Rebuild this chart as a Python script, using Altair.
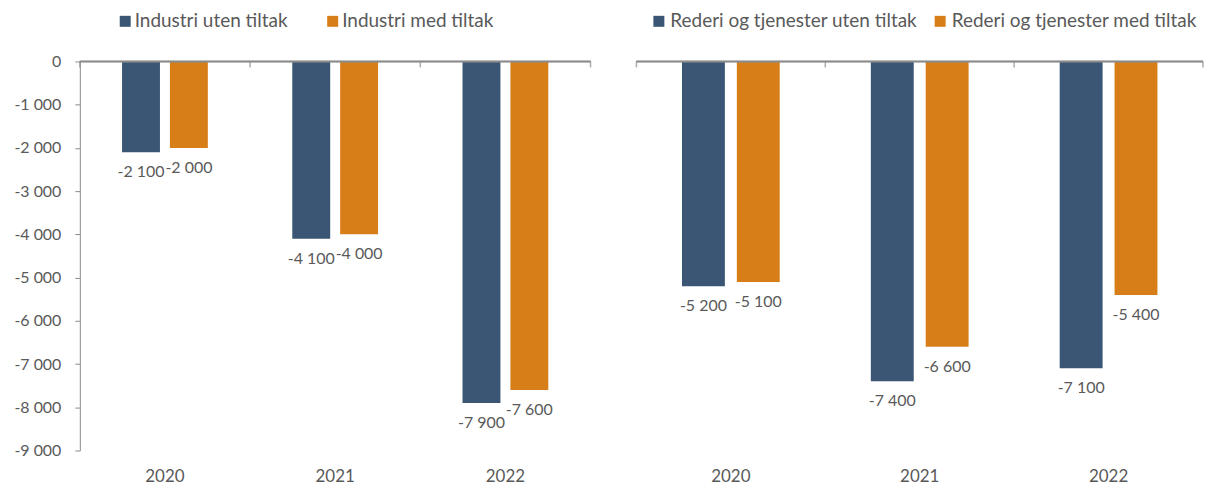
import altair as alt
import pandas as pd

years = ["2020", "2021", "2022"]
industri_uten = [-2100, -4100, -7900]
industri_med = [-2000, -4000, -7600]
rederi_uten = [-5200, -7400, -7100]
rederi_med = [-5100, -6600, -5400]

left_series = ["Industri uten tiltak", "Industri med tiltak"]
right_series = ["Rederi og tjenester uten tiltak", "Rederi og tjenester med tiltak"]
colors = ["#3A5674", "#D87E18"]
y_ticks = [0, -1000, -2000, -3000, -4000, -5000, -6000, -7000, -8000, -9000]

FONT = "Lato"
GRAY = "#595959"
LINE = "#8C8C8C"


def fmt(v):
    return f"{v:,}".replace(",", " ")


def make_df(name, vals):
    return pd.DataFrame({"year": years, "series": name, "value": vals,
                         "label": [fmt(v) for v in vals], "zero": 0})


def panel(series, a, b, width, bar_w, shift, legend_x, col_pad, lab_off, show_y):
    band = width / len(years)
    xscale = alt.Scale(domain=years, paddingInner=0, paddingOuter=0)
    yscale = alt.Scale(domain=[-9000, 0], nice=False, zero=True)
    if show_y:
        yaxis = alt.Axis(
            values=y_ticks, grid=False, domainColor=LINE, tickColor=LINE, tickSize=5,
            labelColor=GRAY, labelFontSize=16, labelFont=FONT, labelPadding=14,
            minExtent=72, maxExtent=72, title=None,
            labelExpr="replace(replace(format(datum.value, ','), ',', ' '), '\u2212', '-')",
        )
    else:
        yaxis = None
    xaxis = alt.Axis(orient="bottom", domain=False, ticks=False, labelAngle=0, grid=False,
                     labelFontSize=17, labelFont=FONT, labelColor=GRAY,
                     labelPadding=18, title=None)
    X = alt.X("year:N", sort=years, scale=xscale, axis=xaxis)
    color = alt.Color(
        "series:N", sort=series,
        scale=alt.Scale(domain=series, range=colors),
        legend=alt.Legend(
            orient="none", legendX=legend_x, legendY=-50, direction="horizontal",
            title=None, symbolType="square", symbolSize=121, symbolStrokeWidth=0,
            labelFontSize=19, labelFont=FONT, labelColor=GRAY, labelOffset=lab_off,
            labelLimit=400, columnPadding=col_pad, padding=0,
        ),
    )
    layers = []
    for i, (name, vals) in enumerate(zip(series, [a, b])):
        d = make_df(name, vals)
        off = -shift if i == 0 else shift
        layers.append(alt.Chart(d).mark_bar(width=bar_w, xOffset=off).encode(
            x=X, y=alt.Y("value:Q", scale=yscale, axis=yaxis), color=color,
        ))
        layers.append(alt.Chart(d).mark_text(
            baseline="top", dy=12, dx=off, fontSize=16, font=FONT, color=GRAY
        ).encode(x=X, y=alt.Y("value:Q", scale=yscale, axis=yaxis), text="label:N"))
    d0 = make_df(series[0], a)
    # zero line
    layers.append(alt.Chart(d0).mark_rule(color=LINE, strokeWidth=1.5).encode(
        y=alt.Y("zero:Q", scale=yscale, axis=yaxis)))
    # small category separator ticks hanging below the zero line
    layers.append(alt.Chart(d0).mark_tick(
        color=LINE, thickness=1.5, size=6, orient="vertical", xOffset=-band / 2, yOffset=3
    ).encode(x=X, y=alt.Y("zero:Q", scale=yscale, axis=yaxis)))
    layers.append(alt.Chart(d0.tail(1)).mark_tick(
        color=LINE, thickness=1.5, size=6, orient="vertical", xOffset=band / 2, yOffset=3
    ).encode(x=X, y=alt.Y("zero:Q", scale=yscale, axis=yaxis)))
    return alt.layer(*layers).properties(
        width=width, height=390,
        view=alt.ViewBackground(stroke="transparent", strokeWidth=0),
    )


left = panel(left_series, industri_uten, industri_med, 512, 38, 24, 36, 35, 0, True)
right = panel(right_series, rederi_uten, rederi_med, 568, 43, 27.5, 13, 13, 2, False)

chart = alt.hconcat(left, right, spacing=44).resolve_scale(
    color="independent", y="shared"
).resolve_legend(color="independent").properties(
    padding={"left": 0, "top": 3, "right": 0, "bottom": 0}
).configure_view(stroke="transparent", strokeWidth=0).configure_axis(grid=False).configure(
    background="white")

chart.save("out.html", embed_options={"renderer": "svg", "actions": False})
